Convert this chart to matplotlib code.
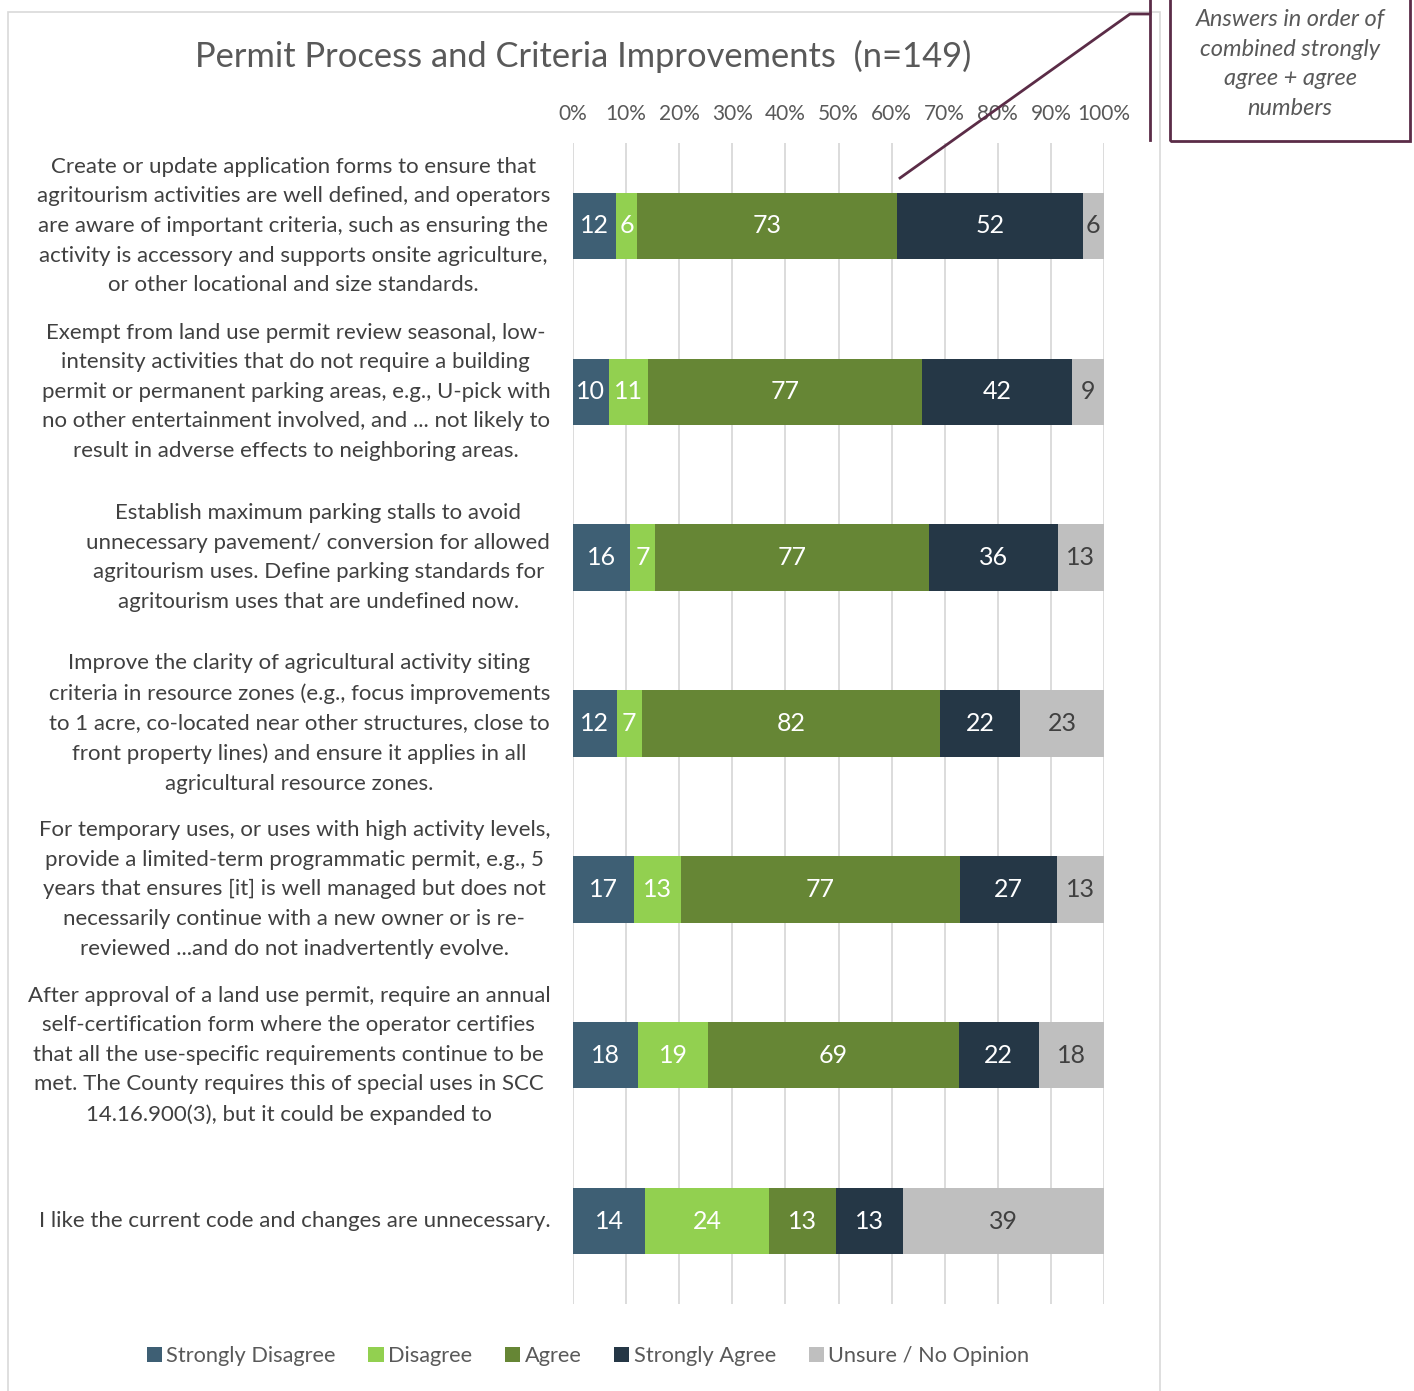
import matplotlib
matplotlib.use("Agg")
import matplotlib.pyplot as plt
from matplotlib.lines import Line2D
from matplotlib.patches import Rectangle
import numpy as np

plt.rcParams["font.family"] = ["Lato", "DejaVu Sans"]

categories = [
    "Create or update application forms to ensure that\n"
    "agritourism activities are well defined, and operators\n"
    "are aware of important criteria, such as ensuring the\n"
    "activity is accessory and supports onsite agriculture,\n"
    "or other locational and size standards.",
    "Exempt from land use permit review seasonal, low-\n"
    "intensity activities that do not require a building\n"
    "permit or permanent parking areas, e.g., U-pick with\n"
    "no other entertainment involved, and ... not likely to\n"
    "result in adverse effects to neighboring areas.",
    "Establish maximum parking stalls to avoid\n"
    "unnecessary pavement/ conversion for allowed\n"
    "agritourism uses. Define parking standards for\n"
    "agritourism uses that are undefined now.",
    "Improve the clarity of agricultural activity siting\n"
    "criteria in resource zones (e.g., focus improvements\n"
    "to 1 acre, co-located near other structures, close to\n"
    "front property lines) and ensure it applies in all\n"
    "agricultural resource zones.",
    "For temporary uses, or uses with high activity levels,\n"
    "provide a limited-term programmatic permit, e.g., 5\n"
    "years that ensures [it] is well managed but does not\n"
    "necessarily continue with a new owner or is re-\n"
    "reviewed ...and do not inadvertently evolve.",
    "After approval of a land use permit, require an annual\n"
    "self-certification form where the operator certifies\n"
    "that all the use-specific requirements continue to be\n"
    "met. The County requires this of special uses in SCC\n"
    "14.16.900(3), but it could be expanded to",
    "I like the current code and changes are unnecessary.",
]

strongly_disagree = [12, 10, 16, 12, 17, 18, 14]
disagree          = [6, 11, 7, 7, 13, 19, 24]
agree             = [73, 77, 77, 82, 77, 69, 13]
strongly_agree    = [52, 42, 36, 22, 27, 22, 13]
unsure            = [6, 9, 13, 23, 13, 18, 39]

series_names = ["Strongly Disagree", "Disagree", "Agree", "Strongly Agree", "Unsure / No Opinion"]
colors = ["#3E5F74", "#92D050", "#668635", "#253746", "#BFBFBF"]
label_colors = ["white", "white", "white", "white", "#404040"]

W, H = 1414, 1391


def fx(px):
    return px / W


def fy(py):
    return 1 - py / H


fig = plt.figure(figsize=(W / 100, H / 100), dpi=100)
fig.patch.set_facecolor("white")

# chart border
fig.add_artist(Rectangle((fx(8), fy(1400)), fx(1160) - fx(8), fy(12) - fy(1400),
                         transform=fig.transFigure, fill=False,
                         edgecolor="#D9D9D9", linewidth=1.2))

ax = fig.add_axes([fx(573), fy(1304), fx(1104) - fx(573), fy(143) - fy(1304)])

data = np.array([strongly_disagree, disagree, agree, strongly_agree, unsure], dtype=float)
totals = data.sum(axis=0)
pct = data / totals * 100
y = np.arange(len(categories))

left = np.zeros(len(categories))
for i, name in enumerate(series_names):
    bars = ax.barh(y, pct[i], left=left, height=0.4, color=colors[i],
                   label=name, zorder=3)
    for j, b in enumerate(bars):
        ax.text(left[j] + pct[i][j] / 2, y[j], f"{int(data[i][j])}",
                ha="center", va="center", color=label_colors[i],
                fontsize=18, zorder=4)
    left += pct[i]

ax.set_xlim(0, 100)
ax.set_ylim(len(categories) - 0.5, -0.5)
ax.set_xticks(np.arange(0, 101, 10))
ax.set_xticklabels([f"{t}%" for t in range(0, 101, 10)])
ax.xaxis.tick_top()
ax.tick_params(axis="x", length=0, pad=14, labelsize=15, labelcolor="#595959")
ax.set_yticks([])
ax.grid(True, axis="x", color="#D9D9D9", linewidth=1.3, zorder=0)
for s in ax.spines.values():
    s.set_visible(False)

for j, cat in enumerate(categories):
    ax.text(-0.043, j, cat, transform=ax.get_yaxis_transform(),
            ha="right", va="center", multialignment="center",
            fontsize=16, color="#404040", linespacing=1.6)

fig.text(fx(583), fy(56), "Permit Process and Criteria Improvements  (n=149)",
         ha="center", va="center", fontsize=24.8, color="#595959")

fig.legend(loc="center", bbox_to_anchor=(fx(588), fy(1356)), ncol=5,
           frameon=False, fontsize=15.7, handlelength=0.7, handleheight=0.7,
           handletextpad=0.2, columnspacing=1.5, labelcolor="#595959")

# callout
callout_color = "#5B2C47"
fig.add_artist(Line2D([fx(900), fx(1130), fx(1150)], [fy(178), fy(14), fy(14)],
                      transform=fig.transFigure, color=callout_color, linewidth=2))
fig.add_artist(Line2D([fx(1150), fx(1150)], [fy(-5), fy(140)],
                      transform=fig.transFigure, color=callout_color, linewidth=2))
fig.add_artist(Rectangle((fx(1170), fy(141)), fx(1410) - fx(1170), fy(-10) - fy(141),
                         transform=fig.transFigure, fill=False,
                         edgecolor=callout_color, linewidth=2))
fig.text(fx(1290), fy(64), "Answers in order of\ncombined strongly\nagree + agree\nnumbers",
         ha="center", va="center", fontsize=17, style="italic", color="#595959",
         linespacing=1.5)

fig.savefig("out.png", dpi=100, facecolor="white")
